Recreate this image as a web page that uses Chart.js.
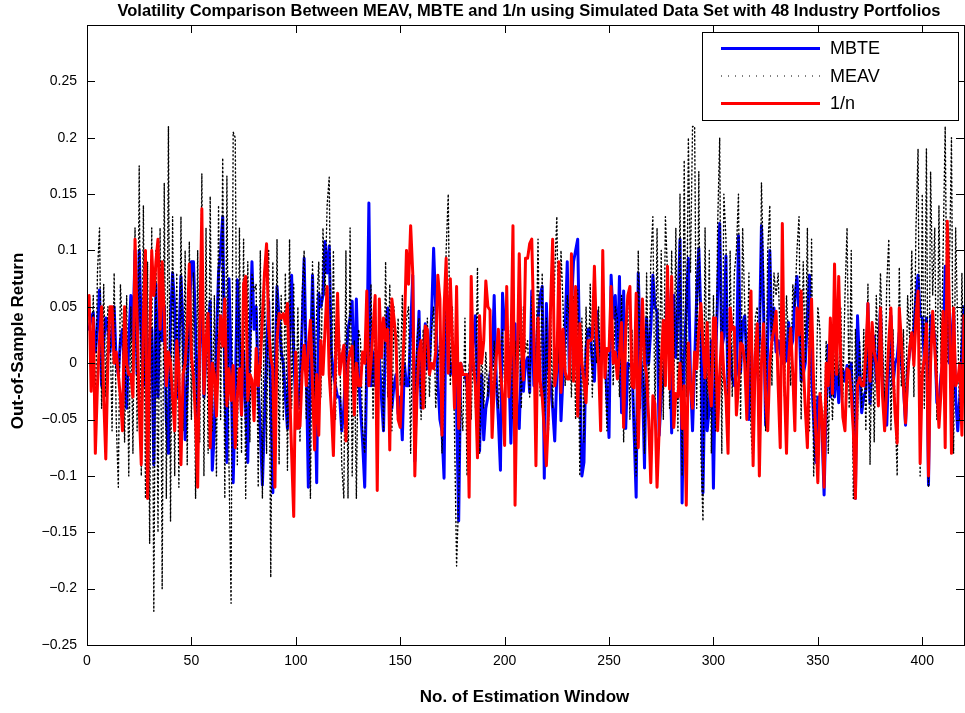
<!DOCTYPE html>
<html>
<head>
<meta charset="utf-8">
<script src="https://cdn.jsdelivr.net/npm/chart.js@4/dist/chart.umd.min.js"></script>
<style>
  body { margin: 0; background: #fff; }
  canvas { display: block; }
</style>
</head>
<body>
<canvas id="myChart" width="965" height="713"></canvas>
<script>
// out-of-sample returns per estimation window
const mbte = [
  0.03, 0.04, 0.045, 0.01, 0.03, 0.065, -0.02, 0.02, 0.04, 0.03,
  0.01, 0.03, 0.05, 0.0, -0.01, 0.02, 0.03, -0.01, -0.04, 0.02,
  0.06, 0.02, 0.1, -0.01, 0.1, 0.03, -0.02, 0.06, -0.06, 0.02,
  0.03, -0.09, 0.07, -0.03, 0.08, 0.02, 0.05, -0.05, -0.08, 0.04,
  0.08, 0.05, -0.03, 0.02, 0.077, 0.03, -0.068, -0.02, 0.04, 0.09,
  0.09, 0.03, -0.05, 0.02, 0.06, -0.03, 0.01, 0.03, 0.055, -0.095,
  -0.06, 0.02, 0.08, 0.1, 0.13, -0.02, -0.088, 0.075, 0.0, -0.106,
  -0.03, 0.074, 0.02, -0.046, 0.01, -0.04, -0.088, 0.02, 0.09, 0.03,
  0.05, -0.02, -0.06, -0.108, -0.05, 0.01, 0.055, -0.03, -0.115, -0.02,
  0.068, 0.04, 0.01, 0.0, -0.03, -0.058, 0.02, 0.078, 0.01, -0.04,
  -0.04, -0.02, 0.03, 0.093, 0.0, -0.11, 0.0, 0.078, 0.0, -0.106,
  0.062, 0.05, 0.06, 0.108, 0.08, 0.104, 0.01, -0.01, -0.02, -0.03,
  -0.03, -0.06, -0.04, 0.0, 0.03, 0.04, 0.055, -0.03, 0.057, -0.01,
  -0.04, -0.07, -0.11, 0.0, 0.142, -0.02, 0.01, -0.02, 0.0, 0.005,
  -0.03, -0.06, 0.03, 0.049, 0.02, -0.04, -0.02, -0.01, -0.045, -0.03,
  -0.068, 0.0, -0.02, -0.02, 0.03, 0.078, -0.087, 0.0, 0.046, -0.04,
  0.0, 0.035, -0.005, 0.0, 0.04, 0.102, 0.05, -0.015, -0.05, -0.06,
  -0.102, 0.071, 0.02, -0.01, 0.0, -0.005, -0.04, -0.14, 0.0, -0.01,
  -0.01, -0.02, -0.01, -0.005, 0.02, 0.042, -0.02, -0.078, -0.01, -0.068,
  -0.04, -0.03, -0.01, 0.0, 0.06, -0.015, -0.05, -0.095, 0.062, 0.03,
  0.03, 0.0, -0.071, 0.0, 0.035, -0.045, -0.058, 0.002, -0.025, 0.0,
  0.005, -0.026, 0.064, -0.02, 0.005, 0.04, 0.06, 0.068, -0.102, 0.053,
  -0.005, -0.02, -0.04, -0.069, -0.01, 0.035, -0.051, -0.01, 0.03, 0.09,
  -0.01, 0.05, 0.09, 0.1, 0.11, 0.0, -0.1, -0.088, 0.013, 0.03,
  0.031, 0.0, -0.016, 0.046, 0.02, -0.002, 0.01, 0.013, -0.03, -0.066,
  0.078, 0.04, 0.06, 0.0, 0.077, -0.044, 0.064, -0.058, 0.0, -0.002,
  0.0, -0.06, -0.119, 0.08, 0.01, -0.015, -0.093, 0.04, 0.0, 0.03,
  0.078, 0.05, 0.046, -0.064, -0.03, -0.015, 0.01, 0.068, 0.03, -0.062,
  0.06, 0.005, 0.05, 0.11, -0.124, 0.002, 0.05, 0.093, -0.013, -0.06,
  0.0, 0.06, 0.102, 0.04, -0.115, 0.0, -0.06, -0.04, 0.02, -0.111,
  0.0, 0.06, 0.124, 0.013, 0.024, 0.095, -0.035, 0.016, -0.013, -0.02,
  -0.01, 0.113, -0.008, 0.035, 0.042, 0.0, -0.05, 0.028, -0.03, -0.01,
  0.0, 0.02, 0.122, 0.049, -0.055, 0.02, 0.1, 0.02, 0.049, 0.01,
  0.02, 0.01, 0.0, 0.02, 0.002, 0.036, 0.013, 0.02, 0.057, 0.077,
  0.042, -0.016, -0.01, 0.0, 0.042, 0.078, -0.01, -0.05, -0.088, -0.03,
  -0.035, -0.06, -0.117, -0.038, 0.016, -0.03, -0.002, -0.03, 0.0, -0.035,
  -0.005, -0.006, -0.016, -0.002, -0.01, 0.0, -0.05, -0.12, 0.042, -0.002,
  -0.044, -0.03, -0.024, 0.053, -0.036, 0.0, 0.024, -0.016, 0.01, 0.049,
  -0.02, -0.035, -0.055, 0.0, 0.042, -0.02, 0.0, 0.005, 0.027, 0.0,
  -0.02, -0.055, -0.005, 0.01, 0.02, 0.03, 0.06, 0.078, 0.042, 0.04,
  0.0, 0.04, -0.108, 0.042, 0.03, 0.025, -0.035, -0.037, -0.01, 0.0,
  0.086, 0.07, 0.0, 0.02, 0.047, -0.03, -0.06, -0.03, 0.01, 0.05
];

const meav = [
  0.05, -0.02, 0.06, -0.05, 0.08, 0.12, -0.04, 0.07, -0.03, 0.05,
  0.04, -0.06, 0.08, -0.05, -0.11, 0.07, 0.03, -0.07, 0.06, -0.1,
  0.05, -0.08, 0.12, -0.06, 0.175, -0.1, 0.14, -0.12, 0.09, -0.16,
  0.12, -0.22, 0.1, -0.15, 0.12, -0.2, 0.16, -0.12, 0.21, -0.14,
  0.13, -0.1, 0.08, -0.11, 0.13, -0.06, 0.1, -0.09, 0.108, -0.05,
  0.08, -0.12, 0.1, -0.07, 0.168, -0.1, 0.12, -0.08, 0.148, -0.06,
  0.06, -0.1, 0.14, -0.05, 0.182, -0.12, 0.166, -0.09, -0.213, 0.205,
  0.2, -0.09, 0.12, -0.08, 0.11, -0.12, 0.09, -0.07, 0.08, 0.064,
  0.07, -0.11, 0.1, -0.12, 0.08, -0.08, 0.1, -0.19, 0.09, -0.1,
  0.11, -0.09, 0.06, -0.05, 0.08, -0.095, 0.11, -0.04, 0.07, -0.06,
  0.05, -0.07, 0.06, 0.1, -0.05, 0.02, -0.12, 0.09, -0.04, 0.05,
  0.09, -0.03, 0.12, 0.06, 0.14, 0.165, -0.03, 0.1, -0.05, 0.04,
  0.02, -0.09, -0.12, 0.1, -0.12, 0.12, -0.1, 0.02, -0.12, 0.03,
  0.02, -0.06, -0.08, 0.05, -0.01, 0.07, -0.05, 0.06, -0.04, 0.05,
  0.03, -0.06, 0.09, -0.03, 0.07, -0.06, 0.05, 0.0, 0.04, -0.02,
  0.06, -0.02, 0.04, 0.05, -0.08, 0.05, -0.06, 0.02, 0.04, -0.05,
  0.03, -0.04, 0.04, -0.03, 0.03, 0.05, -0.04, 0.0, 0.02, -0.08,
  -0.02, 0.1, 0.15, -0.02, 0.05, -0.06, -0.18, -0.12, -0.03, -0.06,
  0.04, -0.1, 0.0, -0.05, 0.02, -0.04, 0.085, -0.08, 0.02, -0.04,
  0.01, -0.03, 0.0, -0.04, 0.02, -0.02, -0.04, 0.01, 0.03, -0.02,
  0.03, -0.02, 0.04, -0.05, 0.02, -0.02, 0.03, -0.04, 0.05, 0.01,
  0.02, -0.03, 0.06, 0.02, -0.01, 0.11, -0.03, 0.08, -0.06, 0.04,
  -0.06, 0.05, -0.04, 0.08, 0.13, 0.0, 0.1, 0.05, -0.02, 0.06,
  0.04, -0.03, 0.06, -0.05, 0.065, -0.1, 0.04, -0.07, 0.05, -0.02,
  0.07, -0.03, 0.05, 0.0, 0.05, -0.02, 0.03, 0.0, -0.06, 0.02,
  0.06, -0.02, 0.05, 0.04, -0.03, 0.06, -0.07, 0.02, 0.05, -0.05,
  0.03, -0.06, -0.1, 0.1, -0.04, 0.05, -0.08, 0.08, -0.03, 0.09,
  0.13, -0.05, 0.12, -0.02, 0.1, -0.05, 0.13, 0.08, -0.04, 0.1,
  -0.03, 0.12, -0.06, 0.15, -0.1, 0.18, -0.03, 0.2, 0.08, 0.21,
  0.21, -0.04, 0.17, -0.08, -0.14, 0.12, -0.05, 0.1, -0.08, 0.06,
  -0.06, 0.12, 0.2, -0.08, 0.15, 0.11, -0.05, 0.1, -0.03, 0.08,
  0.1, 0.15, -0.05, 0.12, 0.05, -0.02, 0.08, -0.06, -0.09, 0.04,
  0.05, -0.04, 0.16, 0.08, -0.06, 0.1, 0.14, -0.02, 0.08, 0.06,
  0.08, 0.02, 0.07, -0.03, 0.06, 0.02, -0.02, 0.07, 0.05, 0.1,
  0.13, -0.05, 0.09, 0.0, 0.12, -0.06, 0.11, -0.1, -0.04, 0.05,
  0.03, -0.07, -0.05, 0.02, -0.08, 0.01, -0.05, 0.0, 0.03, -0.02,
  0.05, -0.03, 0.06, 0.12, -0.04, 0.1, -0.12, 0.03, -0.05, 0.02,
  -0.04, 0.03, -0.06, 0.07, -0.09, 0.03, -0.07, 0.06, 0.0, 0.08,
  0.02, -0.04, 0.07, 0.11, -0.06, 0.03, -0.04, -0.1, 0.085, -0.02,
  0.03, -0.05, 0.06, 0.02, 0.1, -0.03, 0.12, 0.19, -0.1, 0.15,
  -0.04, 0.19, -0.11, 0.17, 0.06, 0.12, -0.05, 0.14, 0.0, 0.1,
  0.21, 0.0, 0.08, 0.2, -0.08, 0.12, 0.03, -0.05, 0.08, -0.03
];

const oneOverN = [
  0.06, -0.025, 0.04, -0.08, -0.02, 0.02, 0.05, -0.03, -0.085, 0.0,
  0.05, 0.05, 0.0, 0.01, -0.01, -0.03, -0.06, 0.05, 0.0, -0.01,
  -0.01, -0.03, 0.11, 0.04, -0.04, -0.09, 0.04, 0.1, -0.12, 0.02,
  0.1, 0.06, 0.09, 0.11, 0.03, 0.09, 0.04, -0.02, 0.01, 0.0,
  -0.03, -0.06, 0.02, -0.005, -0.09, -0.01, 0.0, 0.03, 0.088, 0.007,
  -0.013, -0.05, -0.11, 0.03, 0.137, -0.027, 0.02, 0.044, -0.075, 0.0,
  -0.01, -0.047, 0.01, 0.042, 0.015, 0.057, -0.038, -0.005, -0.033, -0.002,
  -0.075, -0.03, -0.005, -0.046, 0.071, 0.077, -0.033, -0.01, -0.015, -0.051,
  0.013, -0.02, 0.0, 0.04, 0.08, 0.106, 0.03, 0.005, -0.005, -0.11,
  0.02, 0.044, 0.04, 0.044, 0.035, 0.053, -0.02, -0.08, -0.136, 0.01,
  -0.058, -0.056, -0.01, 0.016, -0.02, 0.013, 0.038, -0.02, -0.077, -0.01,
  -0.064, 0.02, -0.01, 0.03, 0.068, -0.01, -0.04, -0.082, 0.0, 0.062,
  -0.01, 0.005, 0.016, -0.069, 0.0, 0.01, 0.015, -0.046, 0.0, -0.02,
  -0.02, 0.01, 0.0, 0.064, -0.02, 0.0, 0.03, 0.06, -0.113, 0.057,
  0.005, 0.04, 0.02, 0.03, -0.077, 0.057, 0.04, 0.02, -0.05, -0.057,
  -0.01, 0.03, 0.1, 0.07, 0.122, 0.08, -0.1, -0.03, 0.01, 0.02,
  -0.04, 0.033, 0.03, -0.01, 0.0, -0.005, 0.01, 0.078, 0.057, -0.064,
  0.049, 0.093, -0.009, 0.075, 0.02, -0.04, 0.068, -0.058, 0.0, -0.01,
  -0.01, -0.01, -0.119, 0.077, 0.0, -0.02, -0.084, 0.042, 0.0, 0.02,
  0.073, 0.05, 0.047, -0.066, -0.02, 0.005, 0.03, -0.005, -0.03, -0.073,
  0.068, -0.03, 0.008, 0.122, -0.126, -0.01, 0.097, 0.016, -0.015, 0.093,
  0.093, 0.106, 0.11, 0.028, -0.091, 0.04, -0.016, -0.03, -0.06, -0.091,
  -0.045, 0.05, 0.11, -0.02, -0.005, 0.09, -0.026, 0.03, -0.008, -0.014,
  -0.014, 0.097, -0.016, 0.068, -0.047, 0.035, 0.0, -0.016, -0.035, 0.02,
  0.02, 0.022, 0.086, 0.024, 0.0, -0.06, 0.1, -0.013, 0.013, 0.011,
  0.068, 0.0, 0.01, -0.014, 0.008, 0.036, -0.057, 0.03, 0.06, 0.068,
  -0.02, -0.022, 0.062, -0.075, 0.0, 0.057, 0.0, -0.01, -0.05, -0.106,
  -0.029, -0.036, -0.11, -0.06, 0.0, 0.038, -0.02, 0.086, -0.023, 0.077,
  -0.057, -0.027, -0.03, 0.0, -0.058, -0.02, -0.126, 0.018, -0.02, -0.04,
  0.01, -0.005, 0.03, 0.053, 0.016, -0.013, 0.036, -0.02, -0.038, 0.04,
  0.04, -0.06, -0.01, 0.027, -0.01, -0.03, -0.08, 0.049, 0.03, 0.032,
  -0.046, -0.02, 0.018, 0.016, 0.0, -0.05, 0.02, 0.064, -0.091, 0.005,
  0.035, -0.1, 0.0, 0.035, -0.03, -0.06, 0.0, 0.02, 0.03, 0.046,
  -0.02, -0.075, 0.124, -0.02, -0.08, 0.002, 0.031, -0.009, -0.06, 0.049,
  0.025, 0.064, 0.0, -0.04, -0.075, 0.01, 0.057, -0.02, -0.06, -0.106,
  -0.027, -0.046, -0.11, 0.0, -0.02, 0.04, -0.027, 0.088, -0.01, 0.077,
  0.0, -0.048, -0.06, -0.005, -0.007, -0.027, -0.06, -0.12, -0.02, -0.013,
  -0.02, -0.02, 0.01, 0.053, -0.016, 0.036, 0.01, 0.0, -0.038, 0.049,
  -0.03, -0.06, -0.02, 0.02, 0.049, -0.005, -0.045, -0.071, 0.049, 0.02,
  -0.02, -0.053, -0.015, 0.015, 0.027, -0.002, 0.04, 0.064, -0.089, -0.01,
  0.005, 0.035, -0.1, 0.0, 0.046, 0.013, -0.02, -0.057, -0.025, 0.046,
  -0.075, 0.126, 0.05, -0.08, 0.049, -0.02, -0.015, 0.0, -0.064, 0.042
];

const xTicks = [0, 50, 100, 150, 200, 250, 300, 350, 400];
const yTicks = [-0.25, -0.2, -0.15, -0.1, -0.05, 0, 0.05, 0.1, 0.15, 0.2, 0.25];

const titleText = "Volatility Comparison Between MEAV, MBTE and 1/n using Simulated Data Set with 48 Industry Portfolios";
const xTitle = "No. of Estimation Window";
const yTitle = "Out-of-Sample Return";

const FONT = "'Liberation Sans', Arial, sans-serif";

function toPoints(arr) {
  return arr.map((v, i) => ({ x: i + 1, y: v }));
}

function fmtY(v) {
  const s = String(Math.round(v * 100) / 100);
  return s.replace("-", "\u2212");
}

// matlab-ish box, inner ticks, legend and titles
const matlabFrame = {
  id: "matlabFrame",
  afterDatasetsDraw(chart) {
    const ctx = chart.ctx;
    const a = chart.chartArea;
    const xs = chart.scales.x;
    const ys = chart.scales.y;
    ctx.save();
    ctx.strokeStyle = "#000";
    ctx.lineWidth = 1;
    ctx.beginPath();
    xTicks.forEach(t => {
      const px = Math.round(xs.getPixelForValue(t)) + 0.5;
      ctx.moveTo(px, a.bottom); ctx.lineTo(px, a.bottom - 8);
      ctx.moveTo(px, a.top); ctx.lineTo(px, a.top + 8);
    });
    yTicks.forEach(t => {
      const py = Math.round(ys.getPixelForValue(t)) + 0.5;
      ctx.moveTo(a.left, py); ctx.lineTo(a.left + 8, py);
      ctx.moveTo(a.right, py); ctx.lineTo(a.right - 8, py);
    });
    ctx.stroke();
    ctx.strokeRect(Math.round(a.left) + 0.5, Math.round(a.top) + 0.5,
      Math.round(a.right - a.left), Math.round(a.bottom - a.top));

    // legend
    const lx = 702, ly = 32, lw = 256, lh = 88;
    ctx.fillStyle = "#fff";
    ctx.fillRect(lx, ly, lw, lh);
    ctx.strokeRect(lx + 0.5, ly + 0.5, lw, lh);
    const items = [
      { label: "MBTE", color: "#0000ff", width: 3, dash: [] },
      { label: "MEAV", color: "#000", width: 1, dash: [1, 6] },
      { label: "1/n", color: "#ff0000", width: 3, dash: [] }
    ];
    items.forEach((it, i) => {
      const y = 48.5 + i * 27.5;
      ctx.beginPath();
      ctx.setLineDash(it.dash);
      ctx.strokeStyle = it.color;
      ctx.lineWidth = it.width;
      ctx.moveTo(721, y); ctx.lineTo(820, y);
      ctx.stroke();
      ctx.setLineDash([]);
      ctx.fillStyle = "#000";
      ctx.font = "18px " + FONT;
      ctx.textBaseline = "middle";
      ctx.textAlign = "left";
      ctx.fillText(it.label, 830, y + 1);
    });
    ctx.restore();
  },
  afterDraw(chart) {
    const ctx = chart.ctx;
    const a = chart.chartArea;
    ctx.save();
    ctx.fillStyle = "#000";
    ctx.textAlign = "center";
    ctx.textBaseline = "middle";
    ctx.font = "bold 16.5px " + FONT;
    ctx.fillText(titleText, 529, 11);
    ctx.font = "bold 17px " + FONT;
    ctx.fillText(xTitle, (a.left + a.right) / 2 - 1, 697);
    ctx.translate(18, 341);
    ctx.rotate(-Math.PI / 2);
    ctx.fillText(yTitle, 0, 0);
    ctx.restore();
  }
};

const ctx = document.getElementById("myChart").getContext("2d");
window.chart = new Chart(ctx, {
  type: "line",
  data: {
    datasets: [
      {
        label: "MBTE",
        data: toPoints(mbte),
        borderColor: "#0000ff",
        borderWidth: 3,
        order: 3
      },
      {
        label: "MEAV",
        data: toPoints(meav),
        borderColor: "#000000",
        borderWidth: 1.4,
        borderDash: [1.2, 2.8],
        order: 2
      },
      {
        label: "1/n",
        data: toPoints(oneOverN),
        borderColor: "#ff0000",
        borderWidth: 3,
        order: 1
      }
    ]
  },
  options: {
    responsive: false,
    animation: false,
    events: [],
    layout: { padding: { top: 25, right: 1, left: 0, bottom: 0 } },
    elements: {
      point: { radius: 0 },
      line: { tension: 0, borderJoinStyle: "round", borderCapStyle: "round" }
    },
    plugins: {
      legend: { display: false },
      title: { display: false },
      tooltip: { enabled: false }
    },
    scales: {
      x: {
        type: "linear",
        min: 0,
        max: 420,
        grid: { display: false },
        border: { display: false },
        afterBuildTicks: s => { s.ticks = xTicks.map(v => ({ value: v })); },
        afterFit: s => { s.height = 68; },
        ticks: {
          color: "#000",
          padding: 0,
          maxRotation: 0,
          font: { family: FONT, size: 14 }
        }
      },
      y: {
        type: "linear",
        min: -0.25,
        max: 0.3,
        grid: { display: false },
        border: { display: false },
        afterBuildTicks: s => { s.ticks = yTicks.map(v => ({ value: v })); },
        afterFit: s => { s.width = 87; },
        ticks: {
          color: "#000",
          padding: 2,
          font: { family: FONT, size: 14 },
          callback: v => fmtY(v)
        }
      }
    }
  },
  plugins: [matlabFrame]
});
</script>
</body>
</html>
